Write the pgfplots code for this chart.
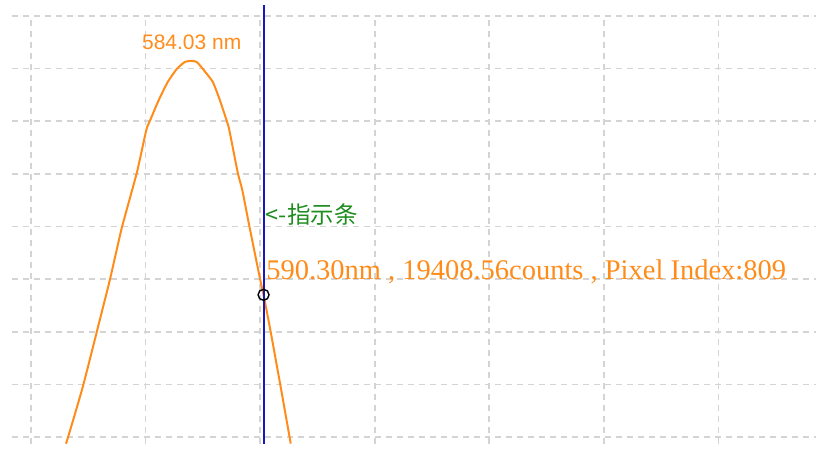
\documentclass[border=0pt]{standalone}
\usepackage{fontspec}
\setmainfont{Liberation Serif}
\newfontfamily\labelsans{Liberation Sans}
\newfontfamily\cjk{Noto Sans CJK SC}
\usepackage{pgfplots}
\pgfplotsset{compat=1.18}
\definecolor{spec}{RGB}{255,140,26}
\definecolor{cursor}{RGB}{24,24,190}
\definecolor{hint}{RGB}{30,140,30}
\definecolor{gridc}{RGB}{212,212,212}

\begin{document}
\begin{tikzpicture}
\begin{axis}[
  scale only axis, width=805pt, height=428pt,
  xmin=568.34, xmax=638.53, ymin=13757, ymax=30000,
  xtick={570,580,...,630}, ytick={14000,16000,...,30000},
  xticklabels={}, yticklabels={}, scaled ticks=false,
  major tick length=0pt,
  axis line style={draw=none},
  grid=major,
  major grid style={gridc, line width=1.6pt, dash pattern=on 6pt off 5pt},
  clip=false,
]
% keep the empty margin left of and above the grid
\path (axis cs:567.30,13757) rectangle (axis cs:638.53,30607);

% spectrum around the peak
\addplot[spec, line width=2pt, smooth, tension=0.3] coordinates {
  (573.05,13757)(573.23,13985)(574.53,15920)(575.75,18008)(576.89,19981)
  (577.93,21954)(579.24,24042)(580.07,25674)(580.38,26015)(581.16,26812)
  (581.94,27495)(582.73,27989)(583.43,28254)(584.03,28292)(584.47,28254)
  (585.00,27989)(585.87,27495)(586.48,26812)(587.09,26015)(587.31,25674)
  (588.05,24042)(588.44,23397)(589.09,21954)(590.01,19981)(590.30,19408.56)
  (590.92,18008)(591.79,15920)(592.58,13985)(592.67,13757)};

% cursor bar
\addplot[cursor, line width=2pt] coordinates {(590.30,13757)(590.30,30420)};
\addplot[only marks, mark=o, mark size=5.5pt, black, line width=1.4pt]
  coordinates {(590.30,19408.56)};

\node[anchor=base, inner sep=0pt, text=spec,
  font=\labelsans\fontsize{21}{25}\selectfont] at (axis cs:584.03,28710) {584.03 nm};
\node[anchor=base west, inner sep=0pt, text=hint,
  font=\cjk\fontsize{23.5}{27}\selectfont] at (axis cs:590.49,22106) {<-指示条};
\node[anchor=base west, inner sep=0pt, text=spec,
  font=\fontsize{28.5}{32}\selectfont] at (axis cs:590.53,19981)
  {590.30nm , 19408.56counts , Pixel Index:809};
\end{axis}
\end{tikzpicture}
\end{document}
